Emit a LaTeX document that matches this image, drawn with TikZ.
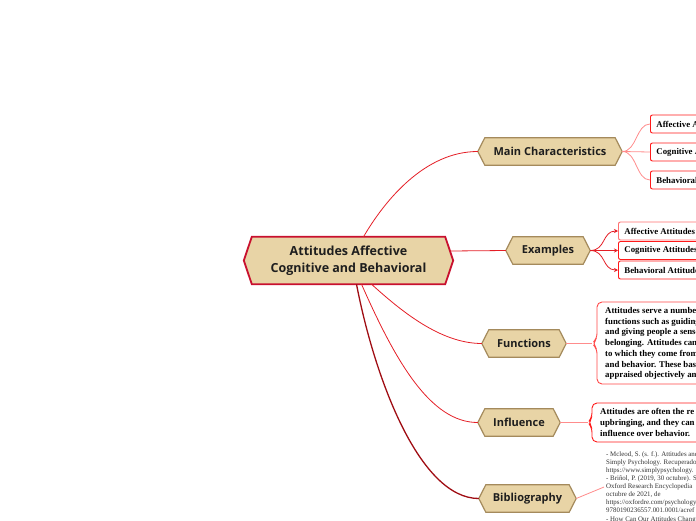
\documentclass[tikz,border=0pt]{standalone}
\usepackage{fontspec}
\setmainfont{Liberation Serif}
\newfontfamily\headfont{Open Sans}
\usetikzlibrary{arrows.meta,backgrounds}
\definecolor{beige}{HTML}{E8D4A6}
\definecolor{hexborder}{HTML}{A48A5C}
\definecolor{crimson}{HTML}{C8102E}
\definecolor{linkred}{HTML}{E41E26}
\definecolor{lightlink}{HTML}{FF8C8C}
\definecolor{darklink}{HTML}{A00E14}
\definecolor{boxred}{HTML}{FF1A1A}
\definecolor{boxlight}{HTML}{FF7070}
\definecolor{headtext}{HTML}{1E1E1E}
\newcommand\hexframe[3]{%
  \begin{scope}[on background layer]
  \draw[#2] (#1.west) -- ([xshift=#3]#1.north west) -- ([xshift=-#3]#1.north east)
    -- (#1.east) -- ([xshift=-#3]#1.south east) -- ([xshift=#3]#1.south west) -- cycle;
  \end{scope}}
\tikzset{
  hexnode/.style={inner sep=0pt, align=center, text=headtext,
    font=\headfont\bfseries\fontsize{11}{13}\selectfont, minimum height=27pt},
  hexdeco/.style={fill=beige, draw=hexborder, line width=1.2pt},
  centerdeco/.style={fill=beige, draw=crimson, line width=1.8pt},
  childbox/.style={draw=boxred, fill=white, rounded corners=2pt, line width=0.9pt,
    anchor=west, minimum height=18pt, inner xsep=6pt, inner ysep=0pt,
    font=\bfseries\fontsize{8.8}{10}\selectfont},
  infobox/.style={draw=boxred, fill=white, rounded corners=5pt, line width=0.9pt},
  infotext/.style={anchor=west, align=left, inner sep=0pt,
    font=\bfseries\fontsize{8.8}{10.7}\selectfont},
  biblio/.style={anchor=west, align=left, inner sep=0pt, text=black!80,
    font=\fontsize{6.9}{8.1}\selectfont},
  link/.style={draw=linkred, line width=0.8pt},
  lightline/.style={draw=lightlink, line width=0.8pt},
  exarrow/.style={draw=linkred, line width=0.8pt, -{Stealth[length=4pt,width=4pt]}},
}
\begin{document}
\begin{tikzpicture}[x=1pt,y=-1pt]
\useasboundingbox (0,0) rectangle (696,520);
\clip (0,0) rectangle (696,520);

% central node
\node[hexnode, minimum width=209pt, minimum height=47pt,
  font=\headfont\bfseries\fontsize{12.5}{17.5}\selectfont] (c) at (348.5,260.5)
  {Attitudes Affective\\Cognitive and Behavioral};
\hexframe{c}{centerdeco}{8pt}

% main branches
\node[hexnode, minimum width=144pt] (mc) at (550,151.5) {Main Characteristics};
\hexframe{mc}{hexdeco}{7pt}
\node[hexnode, minimum width=84pt] (ex) at (548,250.5) {Examples};
\hexframe{ex}{hexdeco}{7pt}
\node[hexnode, minimum width=84pt] (fn) at (524,343.5) {Functions};
\hexframe{fn}{hexdeco}{7pt}
\node[hexnode, minimum width=82pt] (inf) at (519,422.5) {Influence};
\hexframe{inf}{hexdeco}{7pt}
\node[hexnode, minimum width=97pt] (bib) at (527.5,498.5) {Bibliography};
\hexframe{bib}{hexdeco}{7pt}

% connectors from the centre
\draw[link] ([xshift=15pt]c.north) .. controls (385,200) and (425,151.5) .. (mc.west);
\draw[link] ([xshift=-3pt,yshift=9.5pt]c.east) -- (ex.west);
\draw[link] ([xshift=23pt]c.south) .. controls (400,310) and (440,343.5) .. (fn.west);
\draw[link] ([xshift=13pt]c.south) .. controls (395,360) and (430,422.5) .. (inf.west);
\draw[draw=darklink, line width=1.3pt] ([xshift=8pt]c.south) .. controls (375,380) and (420,498.5) .. (bib.west);

% Main Characteristics children
\node[childbox] (mc1) at (650,124) {Affective Attitudes};
\node[childbox] (mc2) at (650,152) {Cognitive Attitudes};
\node[childbox] (mc3) at (650,180) {Behavioral Attitudes};
\draw[lightline] (mc.east) .. controls (637,151.5) and (636,124) .. (mc1.west);
\draw[lightline] (mc.east) -- (mc2.west);
\draw[lightline] (mc.east) .. controls (637,151.5) and (636,180) .. (mc3.west);

% Examples children
\node[childbox, draw=boxlight] (ex1) at (618,231) {Affective Attitudes};
\node[childbox] (ex2) at (618,250.5) {Cognitive Attitudes};
\node[childbox] (ex3) at (618,270) {Behavioral Attitudes};
\draw[exarrow] (ex.east) .. controls (606,250.5) and (602,231) .. (ex1.west);
\draw[exarrow] (ex.east) -- (ex2.west);
\draw[exarrow] (ex.east) .. controls (606,250.5) and (602,270) .. (ex3.west);

% Functions text box
\coordinate (fnb) at (592,343.5);
\draw[infobox, draw=boxred!80] (720,302) -- (597,302) -- (597,338.5) -- (fnb) -- (597,348.5) -- (597,384) -- (720,384);
\node[infotext] (fnt) at (605,343.5) {Attitudes serve a number\\functions such as guiding\\and giving people a sense\\belonging. Attitudes can\\to which they come from\\and behavior. These bas\\appraised objectively an};
\draw[lightline] (fn.east) -- (fnb);

% Influence text box
\coordinate (infb) at (588,422.5);
\draw[infobox] (720,403) -- (592,403) -- (592,417.5) -- (infb) -- (592,427.5) -- (592,442) -- (720,442);
\node[infotext] (inft) at (600,422.5) {Attitudes are often the re\\upbringing, and they can\\influence over behavior.};
\draw[lightline] (inf.east) -- (infb);

% Bibliography text
\node[biblio] (bibt) at (606,487) {- Mcleod, S. (s. f.). Attitudes and\\Simply Psychology. Recuperado\\https://www.simplypsychology.\\- Briñol, P. (2019, 30 octubre). S\\Oxford Research Encyclopedia\\octubre de 2021, de\\https://oxfordre.com/psychology\\9780190236557.001.0001/acref\\- How Can Our Attitudes Chang};
\draw[lightline] (bib.east) -- ([xshift=-2pt]bibt.west);
\end{tikzpicture}
\end{document}
